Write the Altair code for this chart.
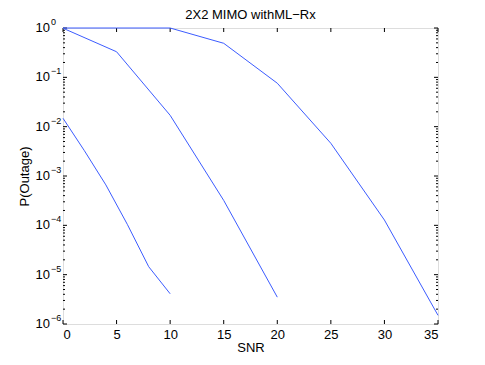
import altair as alt
import pandas as pd

# ---- data ----
snr_a = [0, 2, 4, 6, 8, 10]
pout_a = [1.48e-2, 3.25e-3, 6.6e-4, 1.05e-4, 1.45e-5, 4.1e-6]
snr_b = [0, 5, 10, 15, 20]
pout_b = [0.99, 0.33, 0.017, 3.2e-4, 3.5e-6]
snr_c = [0, 5, 10, 15, 20, 25, 30, 35]
pout_c = [1.0, 1.0, 1.0, 0.49, 0.076, 4.6e-3, 1.28e-4, 1.5e-6]

x_ticks = [0, 5, 10, 15, 20, 25, 30, 35]
y_exponents = [0, -1, -2, -3, -4, -5, -6]
minor_mult = [2, 3, 4, 5, 6, 7, 8, 9]
title_text = "2X2 MIMO withML\u2212Rx"

W, H = 375, 296
FONT = "Liberation Sans"
BLUE = "#3c5cff"

rows = []
for name, xs, ys in [("a", snr_a, pout_a), ("b", snr_b, pout_b), ("c", snr_c, pout_c)]:
    for i, (x, y) in enumerate(zip(xs, ys)):
        rows.append({"series": name, "order": i, "snr": x, "p": y})
lines_df = pd.DataFrame(rows)

xscale = alt.Scale(domain=[0, 35], nice=False, zero=False)
yscale = alt.Scale(type="log", domain=[1e-6, 1], nice=False)

lines = alt.Chart(lines_df).mark_line(color=BLUE, strokeWidth=1).encode(
    x=alt.X("snr:Q", scale=xscale,
            axis=alt.Axis(values=x_ticks, tickSize=0, domain=False, grid=False,
                          labelFont=FONT, labelFontSize=13, labelColor="black",
                          labelPadding=4, title="SNR", titleFont=FONT,
                          titleFontSize=13, titleFontWeight="normal",
                          titleColor="black", titlePadding=0)),
    y=alt.Y("p:Q", scale=yscale,
            axis=alt.Axis(labels=False, ticks=False, domain=False, grid=False,
                          title="P(Outage)", titleFont=FONT, titleFontSize=13,
                          titleFontWeight="normal", titleColor="black",
                          titlePadding=32)),
    detail="series:N",
    order="order:Q",
)

# inward ticks
xt_df = pd.DataFrame({"snr": x_ticks})
xt_bottom = alt.Chart(xt_df).mark_rule(color="black", strokeWidth=1).encode(
    x=alt.X("snr:Q", scale=xscale), y=alt.value(H), y2=alt.value(H - 4))
xt_top = alt.Chart(xt_df).mark_rule(color="black", strokeWidth=1).encode(
    x=alt.X("snr:Q", scale=xscale), y=alt.value(0), y2=alt.value(4))

major_df = pd.DataFrame({"p": [10.0 ** e for e in y_exponents]})
minor_df = pd.DataFrame({"p": [m * 10.0 ** e for e in y_exponents[1:] for m in minor_mult]})

def yticks(df, length):
    left = alt.Chart(df).mark_rule(color="black", strokeWidth=1).encode(
        y=alt.Y("p:Q", scale=yscale), x=alt.value(0), x2=alt.value(length))
    right = alt.Chart(df).mark_rule(color="black", strokeWidth=1).encode(
        y=alt.Y("p:Q", scale=yscale), x=alt.value(W), x2=alt.value(W - length))
    return left + right

# y tick labels: "10" with superscript exponent
lab_df = pd.DataFrame({
    "p": [10.0 ** e for e in y_exponents],
    "exp": [str(e).replace("-", "\u2212") for e in y_exponents],
})
base_txt = alt.Chart(lab_df).mark_text(
    text="10", align="right", baseline="middle", font=FONT, fontSize=13,
    color="black").encode(
    y=alt.Y("p:Q", scale=yscale), x=alt.value(-13))
exp_txt = alt.Chart(lab_df).mark_text(
    align="left", baseline="middle", font=FONT, fontSize=9,
    color="black", dy=-6).encode(
    y=alt.Y("p:Q", scale=yscale), x=alt.value(-12), text="exp:N")

title_df = pd.DataFrame({"t": [title_text]})
title_mark = alt.Chart(title_df).mark_text(
    align="center", baseline="alphabetic", font=FONT, fontSize=13,
    color="black").encode(
    x=alt.value(W / 2), y=alt.value(-9), text="t:N")

chart = alt.layer(
    xt_bottom, xt_top, yticks(major_df, 4), yticks(minor_df, 2),
    base_txt, exp_txt, lines, title_mark,
).properties(
    width=W, height=H,
    autosize=alt.AutoSizeParams(type="none"),
    padding={"left": 55, "top": 20, "right": 39, "bottom": 33},
).configure_view(
    stroke="black", strokeWidth=1
).configure(background="white")

chart.save("out.html", embed_options={"renderer": "svg", "actions": False})
